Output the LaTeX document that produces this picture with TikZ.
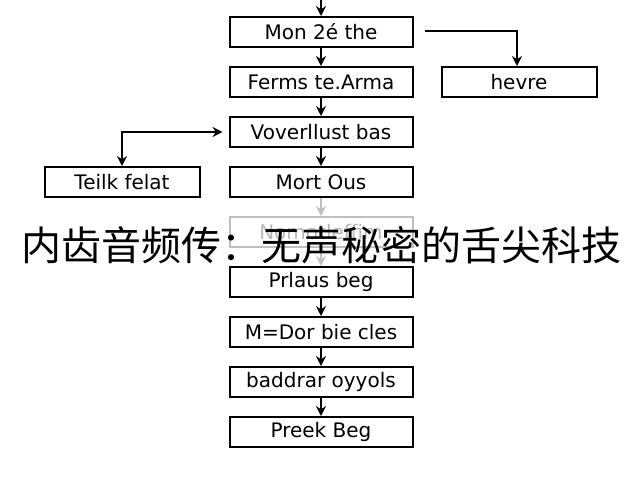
\documentclass[tikz,border=0pt]{standalone}
\usepackage{fontspec}
\setmainfont{DejaVu Sans}
\newfontfamily\cjk{Noto Sans CJK SC}
\usetikzlibrary{arrows.meta}
\begin{document}
\begin{tikzpicture}[x=1pt,y=-1pt,
  box/.style={draw=black,line width=2pt,minimum width=183pt,minimum height=30pt,inner sep=0pt,font=\fontsize{20}{22}\selectfont,fill=white},
  sidebox/.style={box,minimum width=155pt},
  fadedbox/.style={box,draw=gray!50,text=gray!55},
  conn/.style={line width=1.6pt,-{Stealth[length=10pt,width=10pt]}},
  fadedconn/.style={conn,draw=gray!50,-{Stealth[length=10pt,width=10pt,gray!50]}}]
\useasboundingbox[fill=white] (0,0) rectangle (640,480);
\node[box] (b1) at (321,32) {Mon 2é the};
\node[box] (b2) at (321,82) {Ferms te.Arma};
\node[box] (b3) at (321,132) {Voverllust bas};
\node[box] (b4) at (321,182) {Mort Ous};
\node[fadedbox] (b5) at (321,232) {Nomotleffim};
\node[box] (b6) at (321,282) {Prlaus beg};
\node[box] (b7) at (321,332) {M=Dor bie cles};
\node[box] (b8) at (321,382) {baddrar oyyols};
\node[box] (b9) at (321,432) {Preek Beg};
\node[sidebox] (hv) at (519,82) {hevre};
\node[sidebox] (tf) at (122,182) {Teilk felat};
\coordinate (top) at (321,0);
\coordinate (c1) at (425,31);
\draw[conn] (top) -- (b1);
\draw[conn] (b1) -- (b2);
\draw[conn] (b2) -- (b3);
\draw[conn] (b3) -- (b4);
\draw[fadedconn] (b4) -- (b5);
\draw[fadedconn] (b5) -- (b6);
\draw[conn] (b6) -- (b7);
\draw[conn] (b7) -- (b8);
\draw[conn] (b8) -- (b9);
\draw[conn] (c1) -| ([xshift=-2pt]hv.north);
\draw[line width=1.6pt,{Stealth[length=10pt,width=10pt]}-{Stealth[length=10pt,width=10pt]}] (tf.north) |- ([xshift=-6pt]b3.west);
\node[font=\cjk\fontsize{40}{44}\selectfont,inner sep=0pt] (title) at (321,245) {内齿音频传：无声秘密的舌尖科技};
\end{tikzpicture}
\end{document}
